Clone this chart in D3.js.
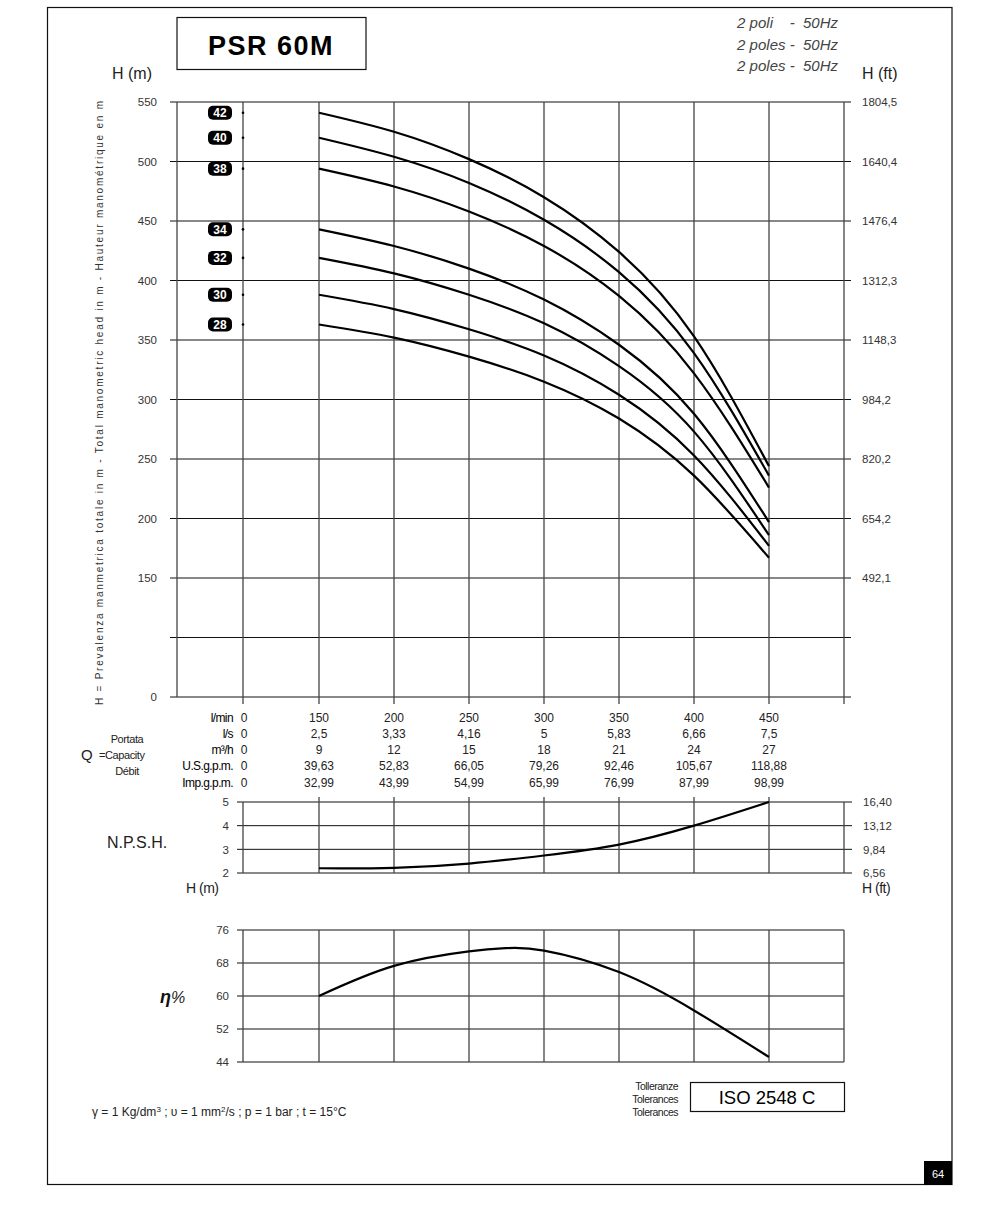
<!DOCTYPE html>
<html><head><meta charset="utf-8">
<script src="https://cdn.jsdelivr.net/npm/d3@7"></script>
<style>
body{margin:0;background:#fff;}
svg text{font-family:"Liberation Sans",Arial,Helvetica,sans-serif;}
</style></head><body>
<svg id="c" width="1000" height="1230"></svg>
<script>
// ---------- DATA ----------
const flowTicks = [0,150,200,250,300,350,400,450];
const flowQ = [150,200,250,300,350,400,450];
const stages = ["42","40","38","34","32","30","28"];
const head42 = [541,525,502,470,424,353,244];
const head40 = [520,504,482,451,407,339,236];
const head38 = [494,479,458,429,387,322,226];
const head34 = [443,429,410,384,346,288,197];
const head32 = [419,406,388,364,328,273,186];
const head30 = [388,376,359,337,304,253,177];
const head28 = [363,352,336,315,284,236,167];
const headSeries = [head42,head40,head38,head34,head32,head30,head28];
const hTicks = [0,150,200,250,300,350,400,450,500,550];
const hGrid = [0,75,150,200,250,300,350,400,450,500,550];
const ftTicks = [150,200,250,300,350,400,450,500,550];
const ftLabels = ["492,1","654,2","820,2","984,2","1148,3","1312,3","1476,4","1640,4","1804,5"];
const rowLmin = ["0","150","200","250","300","350","400","450"];
const rowLs = ["0","2,5","3,33","4,16","5","5,83","6,66","7,5"];
const rowM3h = ["0","9","12","15","18","21","24","27"];
const rowUsgpm = ["0","39,63","52,83","66,05","79,26","92,46","105,67","118,88"];
const rowImpgpm = ["0","32,99","43,99","54,99","65,99","76,99","87,99","98,99"];
const rowUnits = ["l/min","l/s","m³/h","U.S.g.p.m.","Imp.g.p.m."];
const npshValues = [2.2,2.22,2.4,2.74,3.2,4.0,5.0];
const npshTicks = [2,3,4,5];
const npshFt = ["6,56","9,84","13,12","16,40"];
const effQ = [150,200,250,275,300,350,400,450];
const effValues = [60,67.3,70.8,71.6,71.0,65.8,56.5,45.2];
const effTicks = [44,52,60,68,76];

// ---------- SETUP ----------
const svg = d3.select("#c");
const ink = "#111";
const x = d3.scaleLinear().domain([0,150,500]).range([243,319,844]);
const xLeft = 177;
const y = d3.scaleLinear().domain([0,150,550]).range([697,578,102]);
const yN = d3.scaleLinear().domain([2,5]).range([873,802]);
const yE = d3.scaleLinear().domain([44,76]).range([1062,930]);

// page frame
svg.append("rect").attr("x",47.5).attr("y",7.5).attr("width",904.5).attr("height",1177)
  .attr("fill","none").attr("stroke",ink).attr("stroke-width",1.2);
svg.append("rect").attr("x",924).attr("y",1161).attr("width",28).attr("height",24).attr("fill","#000");
svg.append("text").attr("x",938).attr("y",1178).attr("text-anchor","middle").attr("fill","#fff")
  .attr("font-size",11).text("64");

// title
svg.append("rect").attr("x",177).attr("y",17.5).attr("width",189).attr("height",52)
  .attr("fill","none").attr("stroke",ink).attr("stroke-width",1.2);
svg.append("text").attr("x",271).attr("y",55).attr("text-anchor","middle").attr("font-size",27)
  .attr("font-weight","bold").attr("letter-spacing",1.5).attr("fill","#000").text("PSR 60M");

["2 poli    -  50Hz","2 poles -  50Hz","2 poles -  50Hz"].forEach((t,i)=>{
  svg.append("text").attr("x",838).attr("y",28+i*21.5).attr("text-anchor","end")
    .attr("font-size",15).attr("font-style","italic").attr("fill","#444")
    .attr("xml:space","preserve").style("white-space","pre").text(t);
});
svg.append("text").attr("x",112).attr("y",79).attr("font-size",16).attr("fill","#222").text("H (m)");
svg.append("text").attr("x",862).attr("y",79).attr("font-size",16).attr("fill","#222").text("H (ft)");

// rotated axis title
svg.append("text").attr("transform","translate(103,403) rotate(-90)").attr("text-anchor","middle")
  .attr("font-size",10).attr("fill","#333").attr("textLength",604).attr("lengthAdjust","spacing")
  .text("H = Prevalenza manmetrica totale in m - Total manometric head in m - Hauteur manométrique en m");

// ---------- MAIN CHART ----------
const g = svg.append("g");
g.selectAll("line.hg").data(hGrid).join("line")
  .attr("x1",170).attr("x2",851).attr("y1",d=>y(d)).attr("y2",d=>y(d))
  .attr("stroke",ink).attr("stroke-width",1);
g.append("line").attr("x1",xLeft).attr("x2",xLeft).attr("y1",y(550)).attr("y2",y(0)).attr("stroke","#444").attr("stroke-width",1.3);
g.selectAll("line.vg").data(flowTicks.concat([500])).join("line")
  .attr("x1",d=>x(d)).attr("x2",d=>x(d)).attr("y1",y(550)).attr("y2",y(0)+7)
  .attr("stroke","#444").attr("stroke-width",1.3);
const axL = g.append("g").attr("transform",`translate(170,0)`)
  .call(d3.axisLeft(y).tickValues(hTicks).tickSize(0).tickPadding(13).tickFormat(d3.format("d")));
axL.select(".domain").remove();
axL.selectAll("text").attr("font-size",11.5).attr("fill","#333").attr("font-family","Liberation Sans, Arial");
const yFt = d3.scaleOrdinal().domain(ftTicks).range(ftLabels);
const axR = g.append("g").attr("transform",`translate(851,0)`)
  .call(d3.axisRight(y).tickValues(ftTicks).tickSize(0).tickPadding(11).tickFormat(d=>yFt(d)));
axR.select(".domain").remove();
axR.selectAll("text").attr("font-size",11.5).attr("fill","#333").attr("font-family","Liberation Sans, Arial");

const line = d3.line().x((d,i)=>x(flowQ[i])).y(d=>y(d)).curve(d3.curveNatural);
g.selectAll("path.hc").data(headSeries).join("path")
  .attr("d",d=>line(d)).attr("fill","none").attr("stroke","#000").attr("stroke-width",2.2);

headSeries.forEach((s,i)=>{
  const yy = y(s[0]);
  g.append("rect").attr("x",208).attr("y",yy-7).attr("width",24).attr("height",14).attr("rx",5).attr("fill","#000");
  g.append("text").attr("x",220).attr("y",yy+4.5).attr("text-anchor","middle").attr("font-size",12)
    .attr("font-weight","bold").attr("fill","#fff").text(stages[i]);
  g.append("circle").attr("cx",x(0)).attr("cy",yy).attr("r",1.3).attr("fill","#000");
});

// ---------- FLOW TABLE ----------
const rows = [rowLmin,rowLs,rowM3h,rowUsgpm,rowImpgpm];
const rowY = [722,738,754,770,787];
rows.forEach((r,ri)=>{
  svg.append("text").attr("x",233).attr("y",rowY[ri]).attr("text-anchor","end").attr("font-size",12)
    .attr("fill","#000").attr("letter-spacing",-0.6).text(rowUnits[ri]);
  svg.selectAll(null).data(r).join("text")
    .attr("x",(d,i)=>i===0?244:x(flowTicks[i])).attr("y",rowY[ri]).attr("text-anchor","middle")
    .attr("font-size",12).attr("fill","#222").text(d=>d);
});
svg.append("text").attr("x",127).attr("y",743).attr("text-anchor","middle").attr("font-size",11).attr("fill","#222").attr("letter-spacing",-0.4).text("Portata");
svg.append("text").attr("x",81).attr("y",760).attr("font-size",15).attr("fill","#222").text("Q");
svg.append("text").attr("x",99).attr("y",759).attr("font-size",11).attr("fill","#222").attr("letter-spacing",-0.4).text("=Capacity");
svg.append("text").attr("x",127).attr("y",775).attr("text-anchor","middle").attr("font-size",11).attr("fill","#222").attr("letter-spacing",-0.4).text("Débit");

// ---------- NPSH ----------
const gn = svg.append("g");
gn.selectAll("line.hg").data(npshTicks).join("line")
  .attr("x1",237).attr("x2",852).attr("y1",d=>yN(d)).attr("y2",d=>yN(d)).attr("stroke",ink).attr("stroke-width",1);
gn.selectAll("line.vg").data(flowTicks.concat([500])).join("line")
  .attr("x1",d=>x(d)).attr("x2",d=>x(d)).attr("y1",d=>d===0||d===500?yN(5):yN(5)-5).attr("y2",yN(2))
  .attr("stroke","#444").attr("stroke-width",1.3);
const axN = gn.append("g").attr("transform","translate(237,0)")
  .call(d3.axisLeft(yN).tickValues(npshTicks).tickSize(0).tickPadding(8).tickFormat(d3.format("d")));
axN.select(".domain").remove();
axN.selectAll("text").attr("font-size",11.5).attr("fill","#333").attr("font-family","Liberation Sans, Arial");
const npFt = d3.scaleOrdinal().domain(npshTicks).range(npshFt);
const axN2 = gn.append("g").attr("transform","translate(852,0)")
  .call(d3.axisRight(yN).tickValues(npshTicks).tickSize(0).tickPadding(11).tickFormat(d=>npFt(d)));
axN2.select(".domain").remove();
axN2.selectAll("text").attr("font-size",11.5).attr("fill","#333").attr("font-family","Liberation Sans, Arial");
gn.append("path").attr("d",d3.line().x((d,i)=>x(flowQ[i])).y(d=>yN(d)).curve(d3.curveNatural)(npshValues))
  .attr("fill","none").attr("stroke","#000").attr("stroke-width",2.2);
svg.append("text").attr("x",107).attr("y",848).attr("font-size",16).attr("fill","#222").text("N.P.S.H.");
svg.append("text").attr("x",186).attr("y",893).attr("font-size",14).attr("fill","#222").attr("letter-spacing",-0.5).text("H (m)");
svg.append("text").attr("x",862).attr("y",893).attr("font-size",14).attr("fill","#222").attr("letter-spacing",-0.5).text("H (ft)");

// ---------- EFFICIENCY ----------
const ge = svg.append("g");
ge.selectAll("line.hg").data(effTicks).join("line")
  .attr("x1",237).attr("x2",844).attr("y1",d=>yE(d)).attr("y2",d=>yE(d)).attr("stroke",ink).attr("stroke-width",1);
ge.selectAll("line.vg").data(flowTicks.concat([500])).join("line")
  .attr("x1",d=>x(d)).attr("x2",d=>x(d)).attr("y1",yE(76)).attr("y2",yE(44))
  .attr("stroke","#444").attr("stroke-width",1.3);
const axE = ge.append("g").attr("transform","translate(237,0)")
  .call(d3.axisLeft(yE).tickValues(effTicks).tickSize(0).tickPadding(8).tickFormat(d3.format("d")));
axE.select(".domain").remove();
axE.selectAll("text").attr("font-size",11.5).attr("fill","#333").attr("font-family","Liberation Sans, Arial");
ge.append("path").attr("d",d3.line().x((d,i)=>x(effQ[i])).y(d=>yE(d)).curve(d3.curveNatural)(effValues))
  .attr("fill","none").attr("stroke","#000").attr("stroke-width",2.2);
svg.append("text").attr("x",160).attr("y",1003).attr("font-size",18).attr("font-style","italic").attr("font-weight","bold").attr("fill","#111").text("η");
svg.append("text").attr("x",171).attr("y",1003).attr("font-size",16).attr("font-style","italic").attr("fill","#222").text("%");

// ---------- FOOTER ----------
const ft = svg.append("text").attr("x",92).attr("y",1116).attr("font-size",12).attr("fill","#222");
ft.append("tspan").text("γ = 1 Kg/dm");
ft.append("tspan").attr("font-size",8).attr("dy",-4).text("3");
ft.append("tspan").attr("dy",4).text(" ; υ = 1 mm");
ft.append("tspan").attr("font-size",8).attr("dy",-4).text("2");
ft.append("tspan").attr("dy",4).text("/s ; p = 1 bar ; t = 15°C");
["Tolleranze","Tolerances","Tolerances"].forEach((t,i)=>{
  svg.append("text").attr("x",678).attr("y",1090+i*13).attr("text-anchor","end").attr("font-size",10.5)
    .attr("letter-spacing",-0.5).attr("fill","#222").text(t);
});
svg.append("rect").attr("x",690.5).attr("y",1082.5).attr("width",154).attr("height",29)
  .attr("fill","none").attr("stroke",ink).attr("stroke-width",1.2);
svg.append("text").attr("x",767).attr("y",1104).attr("text-anchor","middle").attr("font-size",18.5)
  .attr("fill","#000").text("ISO 2548 C");
</script>
</body></html>
